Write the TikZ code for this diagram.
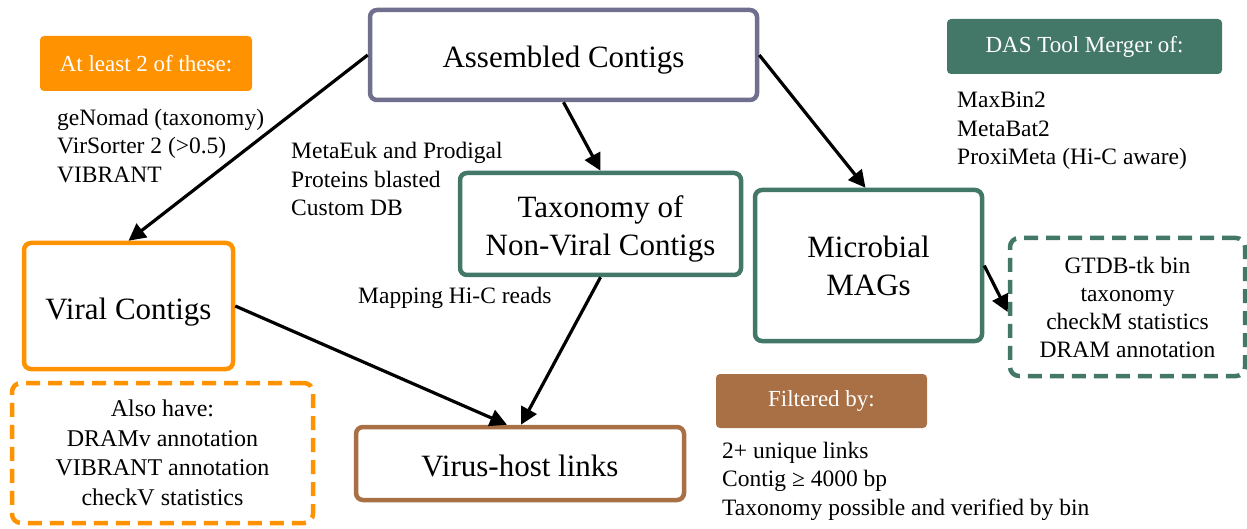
\documentclass[tikz,border=0pt]{standalone}
\usepackage{fontspec}
\setmainfont{Liberation Serif}
\usetikzlibrary{arrows.meta}
\definecolor{slateC}{RGB}{112,112,142}
\definecolor{orangeC}{RGB}{255,146,0}
\definecolor{greenC}{RGB}{67,119,104}
\definecolor{brownC}{RGB}{168,112,68}
\tikzset{
  mainbox/.style={draw=#1, line width=4.5pt, rounded corners=7pt, fill=white,
    inner sep=0pt, align=center, font=\fontsize{31}{38}\selectfont},
  oneline/.style={text height=33pt, text depth=7pt},
  notebox/.style={draw=#1, line width=4.5pt, rounded corners=9pt, dash pattern=on 14pt off 8pt,
    inner sep=0pt, align=center},
  headbox/.style={fill=#1, rounded corners=4pt, inner sep=0pt, text=white,
    font=\fontsize{23}{28}\selectfont},
  listtext/.style={align=left, inner sep=0pt, anchor=west,
    font=\fontsize{23.5}{28.5}\selectfont},
  flow/.style={-{Triangle[length=17pt,width=17pt]}, line width=3.2pt, black},
}
\begin{document}
\begin{tikzpicture}[x=1pt,y=-1pt]
\useasboundingbox (0,0) rectangle (1247,529);

% main process boxes
\node[mainbox=slateC, oneline, minimum width=387pt, minimum height=90pt] (asm) at (563.5,55) {Assembled Contigs};
\node[mainbox=orangeC, oneline, minimum width=209pt, minimum height=126pt] (viral) at (128.5,306) {Viral Contigs};
\node[mainbox=greenC, minimum width=281pt, minimum height=102pt] (tax) at (600.5,224) {};
\node[inner sep=0pt, align=center, font=\fontsize{31}{38}\selectfont] (taxtext) at (600.5,229) {Taxonomy of\\Non-Viral Contigs};
\node[mainbox=greenC, minimum width=227pt, minimum height=151pt] (mags) at (868.5,265.5) {Microbial\\MAGs};
\node[mainbox=brownC, oneline, minimum width=328pt, minimum height=73pt] (vh) at (520,463.5) {Virus-host links};

% dashed annotation boxes
\node[notebox=orangeC, minimum width=301pt, minimum height=140pt,
  font=\fontsize{24}{29.5}\selectfont] (also) at (162.5,453)
  {Also have:\\DRAMv annotation\\VIBRANT annotation\\checkV statistics};
\node[notebox=greenC, minimum width=235pt, minimum height=138pt,
  font=\fontsize{23.5}{28}\selectfont] (gtdb) at (1127.5,307)
  {GTDB-tk bin\\taxonomy\\checkM statistics\\DRAM annotation};

% filled headers
\node[headbox=orangeC, minimum width=212pt, minimum height=55pt] (h1) at (146,63.5) {At least 2 of these:};
\node[headbox=greenC, minimum width=275pt, minimum height=55pt] (h2) at (1084.5,46.5) {DAS Tool Merger of:};
\node[headbox=brownC, minimum width=211pt, minimum height=54pt] (h3) at (821.5,401) {Filtered by:};

% plain text lists
\node[listtext] (l1) at (57,146) {geNomad (taxonomy)\\VirSorter 2 (>0.5)\\VIBRANT};
\node[listtext] (l2) at (291,179) {MetaEuk and Prodigal\\Proteins blasted\\Custom DB};
\node[listtext] (l3) at (957,131) {MaxBin2\\MetaBat2\\ProxiMeta (Hi-C aware)};
\node[listtext] (l4) at (722,481) {2+ unique links\\Contig ≥ 4000 bp\\Taxonomy possible and verified by bin};
\node[listtext] (l5) at (358,298) {Mapping Hi-C reads};

% connectors
\draw[flow] (asm.west) -- (viral.north);
\draw[flow] (asm.south) -- (tax.north);
\draw[flow] (asm.east) -- ([xshift=-3pt]mags.north);
\draw[flow] (viral.east) -- ([xshift=-13pt]vh.north);
\draw[flow] (tax.south) -- ([xshift=1pt]vh.north);
\draw[flow] (mags.east) -- ([yshift=-5pt]gtdb.west);
\end{tikzpicture}
\end{document}
